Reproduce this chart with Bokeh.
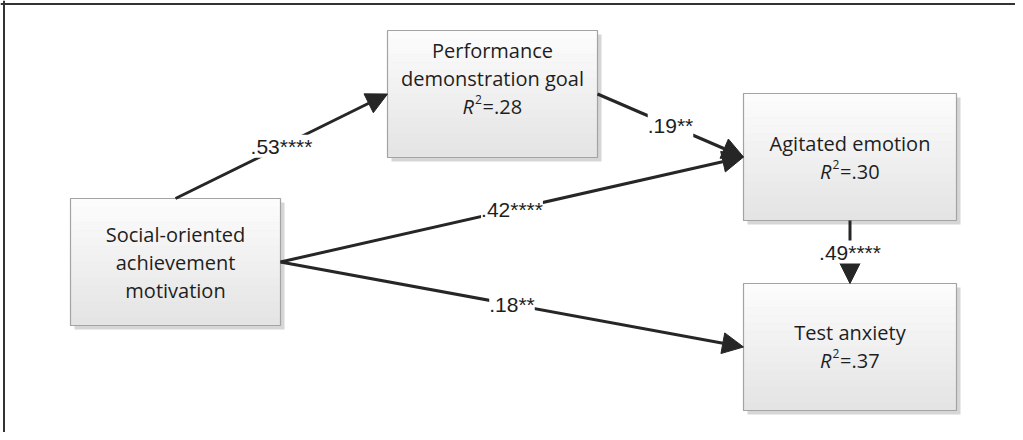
from bokeh.plotting import figure
from bokeh.models import Range1d, ColumnDataSource, Arrow, NormalHead, LabelSet
from bokeh.core.properties import value
from bokeh.embed import file_html
from bokeh.resources import INLINE

# ---------------- data ----------------
node_lines = [
    ["Social-oriented", "achievement", "motivation"],
    ["Performance", "demonstration goal"],
    ["Agitated emotion"],
    ["Test anxiety"],
]
r_squared = [None, ".28", ".30", ".37"]
path_from = [0, 1, 0, 0, 2]
path_to = [1, 2, 2, 3, 3]
path_coef = [".53", ".19", ".42", ".18", ".49"]
path_stars = ["****", "**", "****", "**", "****"]

# ---------------- layout (screen pixels) ----------------
W, H = 1015, 432
box_left = [70, 387, 743, 743]
box_top = [198, 30, 93, 283]
box_w = [210, 210, 213, 213]
box_h = [127, 127, 127, 127]
first_line_y = [234, 50, 143, 332]
line_gap = 28
# anchor sides for each path: (start side, end side)
path_sides = [("top", "left"), ("right", "left"), ("right", "left"), ("right", "left"), ("bottom", "top")]

INK = "#262626"
TXT = "#1e1e1e"
BOX_FONT = "Open Sans"
LBL_FONT = "Liberation Sans"
BOX_FS = 20

p = figure(width=W, height=H, output_backend="svg", toolbar_location=None,
           x_range=Range1d(0, W), y_range=Range1d(H, 0),
           min_border=0, outline_line_color=None)
p.axis.visible = False
p.grid.visible = False
p.background_fill_color = "white"
p.border_fill_color = "white"

# frame (top and left edges)
p.segment(x0=[0, 3.5], y0=[3.5, 0], x1=[W, 3.5], y1=[3.5, H], line_color="#333333", line_width=2)

def anchor(i, side):
    x0, y0 = box_left[i], box_top[i]
    x1, y1 = x0 + box_w[i], y0 + box_h[i]
    if side == "top":
        return ((x0 + x1) / 2, y0)
    if side == "bottom":
        return ((x0 + x1) / 2, y1)
    if side == "left":
        return (x0, (y0 + y1) / 2)
    return (x1, (y0 + y1) / 2)

# boxes: shadow, gradient strips, border
sx0, sx1, sy0, sy1 = [], [], [], []
for i in range(len(node_lines)):
    sx0.append(box_left[i] + 4); sx1.append(box_left[i] + box_w[i] + 4)
    sy0.append(box_top[i] + 4); sy1.append(box_top[i] + box_h[i] + 4)
p.quad(left=sx0, right=sx1, top=sy0, bottom=sy1, fill_color="#d6d6d6", line_color=None)

n_strips = 16
gl, gr, gt, gb, gc = [], [], [], [], []
c_top, c_bot = (252, 252, 252), (228, 228, 228)
for i in range(len(node_lines)):
    for k in range(n_strips):
        f = k / (n_strips - 1)
        c = tuple(int(round(c_top[j] + (c_bot[j] - c_top[j]) * f)) for j in range(3))
        gl.append(box_left[i]); gr.append(box_left[i] + box_w[i])
        gt.append(box_top[i] + box_h[i] * k / n_strips)
        gb.append(box_top[i] + box_h[i] * (k + 1) / n_strips + 0.5)
        gc.append("#%02x%02x%02x" % c)
p.quad(left=gl, right=gr, top=gt, bottom=gb, fill_color=gc, line_color=None)
p.quad(left=[box_left[i] for i in range(4)], right=[box_left[i] + box_w[i] for i in range(4)],
       top=[box_top[i] for i in range(4)], bottom=[box_top[i] + box_h[i] for i in range(4)],
       fill_color=None, line_color="#a3a3a3", line_width=1.2)

# box texts
tx, ty, tt = [], [], []
for i, lines in enumerate(node_lines):
    cx = box_left[i] + box_w[i] / 2
    for k, t in enumerate(lines):
        tx.append(cx); ty.append(first_line_y[i] + k * line_gap); tt.append(t)
p.text(x=tx, y=ty, text=tt, text_font=value(BOX_FONT), text_font_size=f"{BOX_FS}px",
       text_color=TXT, text_align="center", text_baseline="middle")

# R^2 pieces
r_x, r_y, two_x, two_y, eq_x, eq_y, eq_t = [], [], [], [], [], [], []
for i, r in enumerate(r_squared):
    if r is None:
        continue
    cx = box_left[i] + box_w[i] / 2
    y = first_line_y[i] + len(node_lines[i]) * line_gap
    start = cx - 30
    r_x.append(start); r_y.append(y)
    two_x.append(start + 12.5); two_y.append(y - 7)
    eq_x.append(start + 20); eq_y.append(y); eq_t.append("=" + r)
p.text(x=r_x, y=r_y, text=["R"] * len(r_x), text_font=value(BOX_FONT), text_font_size=f"{BOX_FS}px",
       text_font_style="italic", text_color=TXT, text_align="left", text_baseline="middle")
p.text(x=two_x, y=two_y, text=["2"] * len(two_x), text_font=value(BOX_FONT), text_font_size="12px",
       text_color=TXT, text_align="left", text_baseline="middle")
p.text(x=eq_x, y=eq_y, text=eq_t, text_font=value(BOX_FONT), text_font_size=f"{BOX_FS}px",
       text_color=TXT, text_align="left", text_baseline="middle")

# paths
xs, ys, xe, ye, lx, ly, lt = [], [], [], [], [], [], []
for k in range(len(path_coef)):
    a = anchor(path_from[k], path_sides[k][0])
    b = anchor(path_to[k], path_sides[k][1])
    xs.append(a[0]); ys.append(a[1]); xe.append(b[0]); ye.append(b[1])
    lx.append((a[0] + b[0]) / 2); ly.append((a[1] + b[1]) / 2)
    lt.append(path_coef[k] + path_stars[k])
asrc = ColumnDataSource(dict(xs=xs, ys=ys, xe=xe, ye=ye))
p.add_layout(Arrow(end=NormalHead(size=21, fill_color=INK, line_color=INK, line_width=1),
                   x_start="xs", y_start="ys", x_end="xe", y_end="ye", source=asrc,
                   line_color=INK, line_width=3))
lsrc = ColumnDataSource(dict(x=lx, y=ly, t=lt))
p.add_layout(LabelSet(x="x", y="y", text="t", source=lsrc, text_font=value(LBL_FONT),
                      text_font_size="21px", text_color=TXT, text_align="center",
                      text_baseline="middle", background_fill_color="white",
                      background_fill_alpha=1.0))

open("out.html", "w").write(file_html(p, INLINE))
